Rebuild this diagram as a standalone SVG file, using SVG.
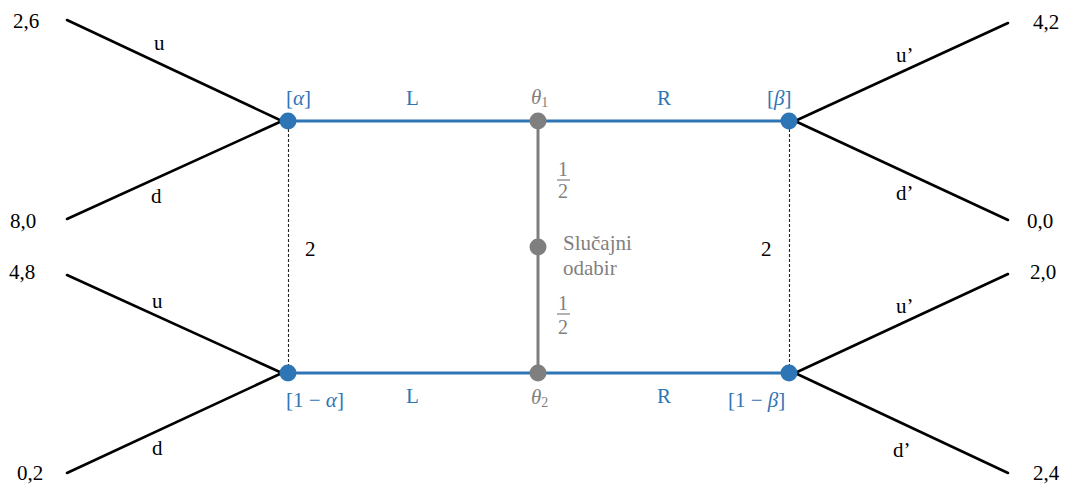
<svg xmlns="http://www.w3.org/2000/svg" width="1066" height="485" viewBox="0 0 1066 485">
<style>
.br{stroke:#000;stroke-width:2.6;fill:none;stroke-linecap:round}
.bl{stroke:#2E75B6;stroke-width:3;fill:none}
.gr{stroke:#7F7F7F;stroke-width:3;fill:none}
.ds{stroke:#222;stroke-width:1.1;stroke-dasharray:3,2;fill:none}
.bn{fill:#2E75B6}
.gn{fill:#7F7F7F}
.t{font-family:"Liberation Serif","Times New Roman",serif;font-size:21px;fill:#000}
.m{font-family:"Liberation Serif","Times New Roman",serif;font-size:21px;fill:#2E75B6}
.mg{font-family:"Liberation Serif","Times New Roman",serif;font-size:21px;fill:#7F7F7F}
.g{font-family:"Liberation Serif","Times New Roman",serif;font-size:21px;fill:#7F7F7F}
.i{font-style:italic}
</style>
<g id="connectors">
  <line class="br" x1="67" y1="20" x2="282" y2="121"/>
  <line class="br" x1="67" y1="219" x2="282" y2="121"/>
  <line class="br" x1="67" y1="275" x2="282" y2="373"/>
  <line class="br" x1="67" y1="473" x2="282" y2="373"/>
  <line class="br" x1="795" y1="121" x2="1008" y2="23"/>
  <line class="br" x1="795" y1="121" x2="1008" y2="220"/>
  <line class="br" x1="795" y1="373" x2="1008" y2="274"/>
  <line class="br" x1="795" y1="373" x2="1008" y2="473"/>
  <line class="bl" x1="288" y1="121" x2="789" y2="121"/>
  <line class="bl" x1="288" y1="373" x2="789" y2="373"/>
  <line class="gr" x1="538" y1="121" x2="538" y2="373"/>
  <line class="ds" x1="288.5" y1="129" x2="288.5" y2="366"/>
  <line class="ds" x1="789.5" y1="129" x2="789.5" y2="366"/>
  <text class="t" x="305" y="256">2</text>
  <text class="t" x="761" y="256">2</text>
  <text class="m" x="406" y="105">L</text>
  <text class="m" x="657" y="105">R</text>
  <text class="m" x="406" y="403">L</text>
  <text class="m" x="657" y="403">R</text>
  <text class="t" x="154" y="50">u</text>
  <text class="t" x="151" y="203">d</text>
  <text class="t" x="152" y="308">u</text>
  <text class="t" x="152" y="455">d</text>
  <text class="t" x="896" y="62">u’</text>
  <text class="t" x="896" y="200">d’</text>
  <text class="t" x="896" y="313">u’</text>
  <text class="t" x="893" y="457">d’</text>
  <g class="g">
    <text x="558" y="176" font-size="20">1</text>
    <line x1="557" y1="180" x2="570" y2="180" stroke="#7F7F7F" stroke-width="1.2"/>
    <text x="558" y="198" font-size="20">2</text>
    <text x="558" y="310" font-size="20">1</text>
    <line x1="557" y1="314" x2="570" y2="314" stroke="#7F7F7F" stroke-width="1.2"/>
    <text x="558" y="334" font-size="20">2</text>
  </g>
</g>
<g id="node-alpha">
  <circle class="bn" cx="288" cy="121" r="8.5"/>
  <text class="m" x="286" y="105">[<tspan class="i">α</tspan>]</text>
</g>
<g id="node-theta1">
  <circle class="gn" cx="538" cy="121" r="8.5"/>
  <text class="mg" x="531" y="104"><tspan class="i">θ</tspan><tspan font-size="14" dy="3">1</tspan></text>
</g>
<g id="node-beta">
  <circle class="bn" cx="789" cy="121" r="8.5"/>
  <text class="m" x="767" y="105">[<tspan class="i">β</tspan>]</text>
</g>
<g id="node-chance">
  <circle class="gn" cx="538" cy="247" r="8.5"/>
  <text class="g" x="563" y="250">Slučajni</text>
  <text class="g" x="563" y="275">odabir</text>
</g>
<g id="node-1-alpha">
  <circle class="bn" cx="288" cy="373" r="8.5"/>
  <text class="m" x="286" y="407">[1 − <tspan class="i">α</tspan>]</text>
</g>
<g id="node-theta2">
  <circle class="gn" cx="538" cy="373" r="8.5"/>
  <text class="mg" x="531" y="404"><tspan class="i">θ</tspan><tspan font-size="14" dy="3">2</tspan></text>
</g>
<g id="node-1-beta">
  <circle class="bn" cx="789" cy="373" r="8.5"/>
  <text class="m" x="728" y="407">[1 − <tspan class="i">β</tspan>]</text>
</g>
<g id="payoffs">
  <text class="t" x="13" y="28">2,6</text>
  <text class="t" x="10" y="228">8,0</text>
  <text class="t" x="9" y="279">4,8</text>
  <text class="t" x="17" y="480">0,2</text>
  <text class="t" x="1033" y="29">4,2</text>
  <text class="t" x="1027" y="228">0,0</text>
  <text class="t" x="1030" y="279">2,0</text>
  <text class="t" x="1033" y="480">2,4</text>
</g>
</svg>
